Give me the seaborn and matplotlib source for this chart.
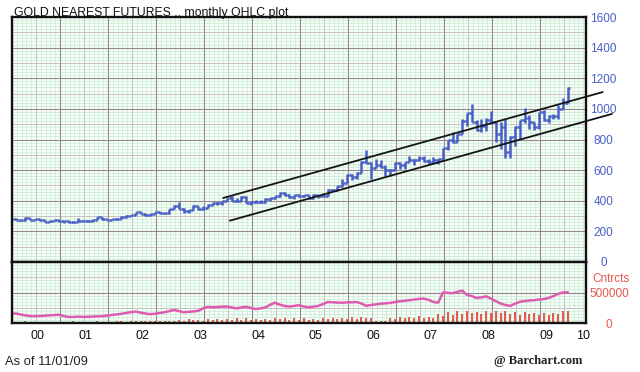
import matplotlib
matplotlib.use("Agg")
import matplotlib.pyplot as plt
import numpy as np
import pandas as pd
import seaborn as sns

# Monthly gold nearest-futures bars, Mar 2000 .. Nov 2009
months = pd.period_range("2000-03", "2009-11", freq="M")

opens = [
    293, 279, 274, 272, 289, 276, 278, 273, 264, 270,
    272, 266, 267, 258, 264, 267, 271, 266, 273, 293, 279, 275,
    279, 282, 297, 302, 309, 326, 314, 304, 312, 324, 317, 318,
    348, 368, 348, 335, 338, 364, 346, 354, 375, 385, 386, 398,
    416, 400, 397, 427, 388, 395, 395, 391, 409, 416, 429, 453,
    438, 422, 435, 429, 435, 417, 436, 429, 433, 473, 470, 495,
    518, 569, 556, 584, 654, 644, 616, 633, 623, 599, 604, 646,
    636, 651, 669, 663, 680, 660, 650, 666, 673, 743, 795, 783,
    838, 923, 971, 916, 865, 887, 930, 913, 833, 884, 718, 816,
    884, 928, 942, 916, 883, 979, 927, 955, 955, 1001, 1040,
]
highs = [
    294, 287, 277, 292, 290, 280, 279, 274, 271, 275,
    273, 268, 268, 266, 285, 273, 272, 280, 293, 293, 282, 280,
    286, 302, 304, 309, 327, 328, 323, 314, 326, 325, 321, 349,
    372, 389, 353, 342, 373, 364, 366, 378, 391, 392, 400, 418,
    428, 420, 430, 428, 397, 402, 406, 416, 420, 431, 456, 456,
    443, 438, 446, 439, 436, 443, 439, 449, 475, 478, 498, 540,
    573, 577, 589, 657, 732, 650, 670, 663, 635, 607, 650, 650,
    655, 690, 670, 694, 694, 672, 683, 675, 745, 795, 848, 838,
    933, 976, 1033, 929, 931, 941, 988, 918, 912, 932, 825, 890,
    930, 1007, 962, 917, 980, 992, 960, 966, 1025, 1070, 1144,
]
lows = [
    274, 273, 268, 271, 275, 272, 269, 263, 263, 268,
    264, 255, 256, 255, 263, 265, 264, 265, 272, 276, 272, 272,
    277, 282, 289, 299, 308, 314, 302, 302, 312, 312, 315, 316,
    345, 346, 321, 323, 337, 342, 341, 350, 371, 370, 375, 397,
    397, 393, 396, 385, 372, 385, 387, 387, 400, 411, 426, 432,
    418, 411, 425, 422, 414, 414, 417, 428, 432, 461, 461, 492,
    518, 538, 541, 583, 648, 543, 612, 612, 561, 560, 603, 605,
    608, 650, 636, 662, 652, 642, 646, 643, 672, 729, 774, 783,
    838, 888, 913, 857, 851, 858, 903, 786, 740, 681, 682, 757,
    804, 907, 866, 865, 870, 918, 908, 932, 934, 1001, 1040,
]
closes = [
    278, 274, 272, 288, 276, 278, 273, 264, 270, 272,
    266, 267, 258, 264, 267, 271, 266, 273, 293, 279, 275, 279,
    282, 297, 302, 309, 326, 314, 304, 312, 324, 317, 318, 348,
    368, 348, 335, 338, 364, 346, 354, 375, 385, 386, 398, 416,
    400, 397, 427, 388, 395, 395, 391, 409, 416, 429, 453, 438,
    422, 435, 429, 435, 417, 436, 429, 433, 473, 470, 495, 518,
    569, 556, 584, 654, 644, 616, 633, 623, 599, 604, 646, 636,
    651, 669, 663, 680, 660, 650, 666, 673, 743, 795, 783, 838,
    923, 971, 916, 865, 887, 930, 913, 833, 884, 718, 816, 884,
    928, 942, 916, 883, 979, 927, 955, 955, 1001, 1040, 1137,
]
# open interest and volume, thousands of contracts
open_interest = [
    150, 156, 140, 125, 114, 112, 115, 120, 125, 130,
    136, 115, 98, 100, 104, 100, 102, 106, 109, 112, 122, 132,
    140, 150, 165, 178, 187, 170, 155, 145, 152, 165, 177, 195,
    213, 195, 177, 182, 190, 198, 240, 265, 258, 262, 268, 270,
    255, 239, 255, 265, 245, 229, 240, 255, 300, 333, 300, 280,
    270, 280, 291, 270, 255, 268, 281, 310, 343, 340, 335, 333,
    338, 340, 343, 320, 281, 295, 305, 317, 322, 330, 343, 355,
    365, 374, 385, 395, 400, 380, 345, 333, 500, 495, 489, 510,
    531, 463, 440, 411, 420, 437, 400, 359, 320, 295, 281, 315,
    348, 360, 369, 375, 385, 392, 411, 440, 479, 500, 505,
]
volume = [
    18, 22, 15, 25, 18, 20, 15, 22, 18, 20,
    15, 22, 18, 25, 20, 22, 15, 20, 25, 18, 22, 20,
    25, 30, 22, 35, 28, 38, 25, 30, 28, 35, 25, 40,
    35, 55, 40, 60, 42, 55, 38, 65, 45, 60, 48, 70,
    55, 80, 50, 75, 48, 70, 45, 72, 55, 80, 60, 85,
    55, 78, 52, 75, 50, 72, 55, 78, 60, 85, 62, 90,
    70, 95, 65, 100, 75, 85, 30, 40, 35, 90, 70, 95,
    75, 105, 80, 110, 85, 105, 90, 140, 110, 175, 130, 190,
    150, 200, 160, 185, 150, 195, 170, 200, 160, 190, 140, 175,
    130, 185, 140, 170, 125, 165, 130, 160, 150, 195, 200,
]
# channel lines: (month since Jan 2000, price)
upper_channel = [(46.7, 418), (125.8, 1110)]
lower_channel = [(48.1, 270), (127.7, 967)]

year_labels = ["00", "01", "02", "03", "04", "05", "06", "07", "08", "09", "10"]
price_ticks = [0, 200, 400, 600, 800, 1000, 1200, 1400, 1600]

BLUE = "#4a60c6"
PINK = "#de5cb0"
RED = "#e6574d"


def draw_paper(ax, xlim, ylim, fine, mid, major):
    # graph-paper background anchored at the axes corner
    xs = np.arange(xlim[0], xlim[1] + 0.01, 1.0)
    idx = np.arange(len(xs))
    xt = ax.get_xaxis_transform()
    yt = ax.get_yaxis_transform()
    ax.vlines(xs[idx % 5 != 0], 0, 1, transform=xt, color="#c2eacf", lw=0.45, zorder=0)
    ax.vlines(xs[(idx % 5 == 0) & (idx % 10 != 0)], 0, 1, transform=xt,
              color="#c9c2c3", lw=0.7, zorder=0.1)
    ax.vlines(xs[idx % 10 == 0], 0, 1, transform=xt, color="#958a8b", lw=0.8, zorder=0.2)
    ys = np.arange(ylim[0], ylim[1] + 1, fine)
    ax.hlines([y for y in ys if y % mid], 0, 1, transform=yt,
              color="#c2eacf", lw=0.45, zorder=0)
    ax.hlines([y for y in ys if y % mid == 0 and y % major], 0, 1, transform=yt,
              color="#c9c2c3", lw=0.7, zorder=0.1)
    ax.hlines([y for y in ys if y % major == 0], 0, 1, transform=yt,
              color="#958a8b", lw=0.8, zorder=0.2)


def main() -> None:
    sns.set_theme(style="white")
    plt.rcParams["font.family"] = ["Liberation Sans", "DejaVu Sans"]

    x = np.array([(p.year - 2000) * 12 + p.month - 1 for p in months]) + 0.5
    df = pd.DataFrame({"x": x, "open": opens, "high": highs, "low": lows,
                       "close": closes, "oi": np.array(open_interest) * 1000,
                       "vol": np.array(volume) * 1000})

    fig = plt.figure(figsize=(6.4, 3.72), dpi=100)
    ax = fig.add_axes([12 / 640, 1 - 262 / 372, 574 / 640, 245 / 372])
    ax2 = fig.add_axes([12 / 640, 1 - 323 / 372, 574 / 640, 61 / 372], sharex=ax)

    xlim = (2.71, 122.3)
    for a in (ax, ax2):
        a.set_facecolor("#f6fdf8")
        for s in a.spines.values():
            s.set_color("#111111")
            s.set_linewidth(1.7)
            s.set_zorder(5)
    ax.set_xlim(*xlim)
    ax.set_ylim(0, 1600)
    ax2.set_ylim(0, 1_000_000)
    draw_paper(ax, xlim, (0, 1600), 20, 100, 200)
    draw_paper(ax2, xlim, (0, 1_000_000), 50_000, 250_000, 500_000)

    # OHLC bars
    ax.vlines(df["x"], df["low"], df["high"], color=BLUE, lw=1.8, zorder=3)
    ax.hlines(df["open"], df["x"] - 0.5, df["x"], color=BLUE, lw=1.8, zorder=3)
    ax.hlines(df["close"], df["x"], df["x"] + 0.5, color=BLUE, lw=1.8, zorder=3)

    for line in (upper_channel, lower_channel):
        xs, ys = zip(*line)
        ax.plot(xs, ys, color="#141414", lw=1.3, zorder=4, clip_on=False)

    # volume + open interest
    ax2.vlines(df["x"], 0, df["vol"], color=RED, lw=1.4, zorder=2)
    sns.lineplot(data=df, x="x", y="oi", ax=ax2, color=PINK, lw=1.8, zorder=3)

    # axis labels
    ax.yaxis.tick_right()
    ax.set_yticks(price_ticks)
    ax.set_yticklabels([str(v) for v in price_ticks], ha="center")
    ax.tick_params(axis="y", length=0, pad=12.5, labelsize=8.5, labelcolor=BLUE)
    ax.tick_params(axis="x", length=0, labelbottom=False)
    ax.set_xlabel("")
    ax.set_ylabel("")

    ax2.yaxis.tick_right()
    ax2.set_yticks([0, 500_000])
    ax2.set_yticklabels(["0", "500000"], ha="center")
    ax2.tick_params(axis="y", length=0, pad=16.5, labelsize=8.5, labelcolor=RED)
    ax2.text(1.043, 0.72, "Cntrcts", transform=ax2.transAxes, ha="center",
             va="center", color=RED, fontsize=8.5)

    tick_pos = np.clip(np.arange(len(year_labels)) * 12 + 6, 8.1, 121.7)
    ax2.set_xticks(tick_pos)
    ax2.set_xticklabels(year_labels)
    ax2.tick_params(axis="x", length=0, pad=5, labelsize=9, labelcolor="#111111")
    ax2.set_xlabel("")
    ax2.set_ylabel("")

    fig.text(14 / 640, 1 - 13 / 372, "GOLD NEAREST FUTURES .. monthly OHLC plot",
             ha="left", va="center", fontsize=8.8, color="#111111")
    fig.text(5 / 640, 1 - 362 / 372, "As of 11/01/09", ha="left", va="center",
             fontsize=9.3, color="#222222")
    fig.text(582 / 640, 1 - 361 / 372, "@ Barchart.com", ha="right", va="center",
             fontsize=9, fontweight="bold", family="Liberation Serif", color="#222222")

    fig.savefig("out.png", dpi=100, facecolor="white")
    plt.close(fig)


if __name__ == "__main__":
    main()
